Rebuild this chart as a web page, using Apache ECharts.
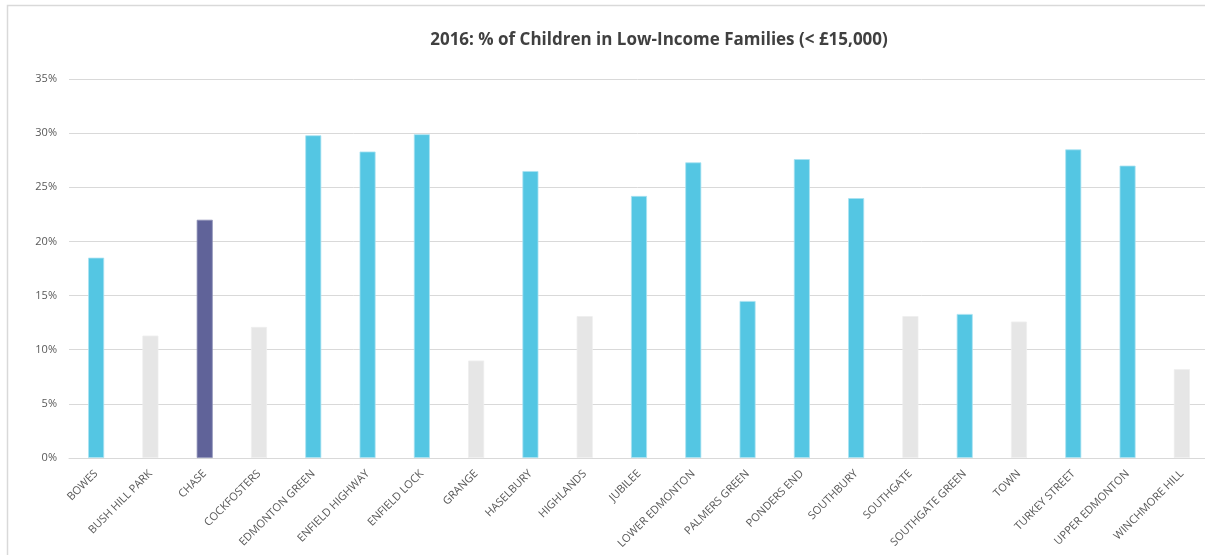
<!DOCTYPE html>
<html>
<head>
<meta charset="utf-8">
<script src="https://cdn.jsdelivr.net/npm/echarts@6/dist/echarts.min.js"></script>
<style>
  html, body { margin: 0; padding: 0; background: #fff; }
  #chart { width: 1205px; height: 555px; }
</style>
</head>
<body>
<div id="chart"></div>
<script>
const categories = ['BOWES', 'BUSH HILL PARK', 'CHASE', 'COCKFOSTERS', 'EDMONTON GREEN', 'ENFIELD HIGHWAY', 'ENFIELD LOCK', 'GRANGE', 'HASELBURY', 'HIGHLANDS', 'JUBILEE', 'LOWER EDMONTON', 'PALMERS GREEN', 'PONDERS END', 'SOUTHBURY', 'SOUTHGATE', 'SOUTHGATE GREEN', 'TOWN', 'TURKEY STREET', 'UPPER EDMONTON', 'WINCHMORE HILL'];
const values = [18.5, 11.3, 22.0, 12.1, 29.8, 28.3, 29.9, 9.0, 26.5, 13.1, 24.2, 27.3, 14.5, 27.6, 24.0, 13.1, 13.3, 12.6, 28.5, 27.0, 8.2];
// group: 'high' (cyan), 'low' (grey), 'focus' (dark)
const groups = ['high', 'low', 'focus', 'low', 'high', 'high', 'high', 'low', 'high', 'low', 'high', 'high', 'high', 'high', 'high', 'low', 'high', 'low', 'high', 'high', 'low'];
const yTicks = [0, 5, 10, 15, 20, 25, 30, 35];

const fillColors = { high: '#54C6E3', low: '#E6E6E6', focus: '#606399' };
const borderColors = { high: '#A9E2F1', low: '#EDEDED', focus: '#8C8EB5' };

const chart = echarts.init(document.getElementById('chart'), null, { renderer: 'canvas' });
chart.setOption({
  animation: false,
  backgroundColor: '#fff',
  title: {
    text: '2016: % of Children in Low-Income Families (< £15,000)',
    left: 654,
    textAlign: 'center',
    top: 27,
    textStyle: { fontFamily: 'Open Sans', fontWeight: 'bold', fontSize: 17, color: '#404040' }
  },
  graphic: [{
    type: 'rect',
    shape: { x: 7.5, y: 5.5, width: 1300, height: 700 },
    style: { fill: 'none', stroke: '#D9D9D9', lineWidth: 1.5 },
    silent: true
  }],
  grid: { left: 69, width: 1140, top: 79, bottom: 97, containLabel: false, outerBoundsMode: 'none' },
  xAxis: {
    type: 'category',
    data: categories,
    axisLine: { lineStyle: { color: '#D9D9D9', width: 1 } },
    axisTick: { show: false },
    axisLabel: {
      rotate: 45,
      interval: 0,
      margin: 14,
      fontFamily: 'Open Sans',
      fontSize: 11,
      color: '#595959'
    }
  },
  yAxis: {
    type: 'value',
    min: 0,
    max: 35,
    interval: 5,
    axisLine: { show: false },
    axisTick: { show: false },
    splitLine: { lineStyle: { color: '#D9D9D9', width: 1 } },
    axisLabel: {
      formatter: function (v) { return yTicks.indexOf(v) >= 0 ? v + '%' : ''; },
      margin: 12,
      fontFamily: 'Open Sans',
      fontSize: 11,
      color: '#595959'
    }
  },
  series: [{
    type: 'bar',
    barWidth: 16,
    data: values.map(function (v, i) {
      return {
        value: v,
        itemStyle: { color: fillColors[groups[i]], borderColor: borderColors[groups[i]], borderWidth: 0.8 }
      };
    })
  }]
});
</script>
</body>
</html>
